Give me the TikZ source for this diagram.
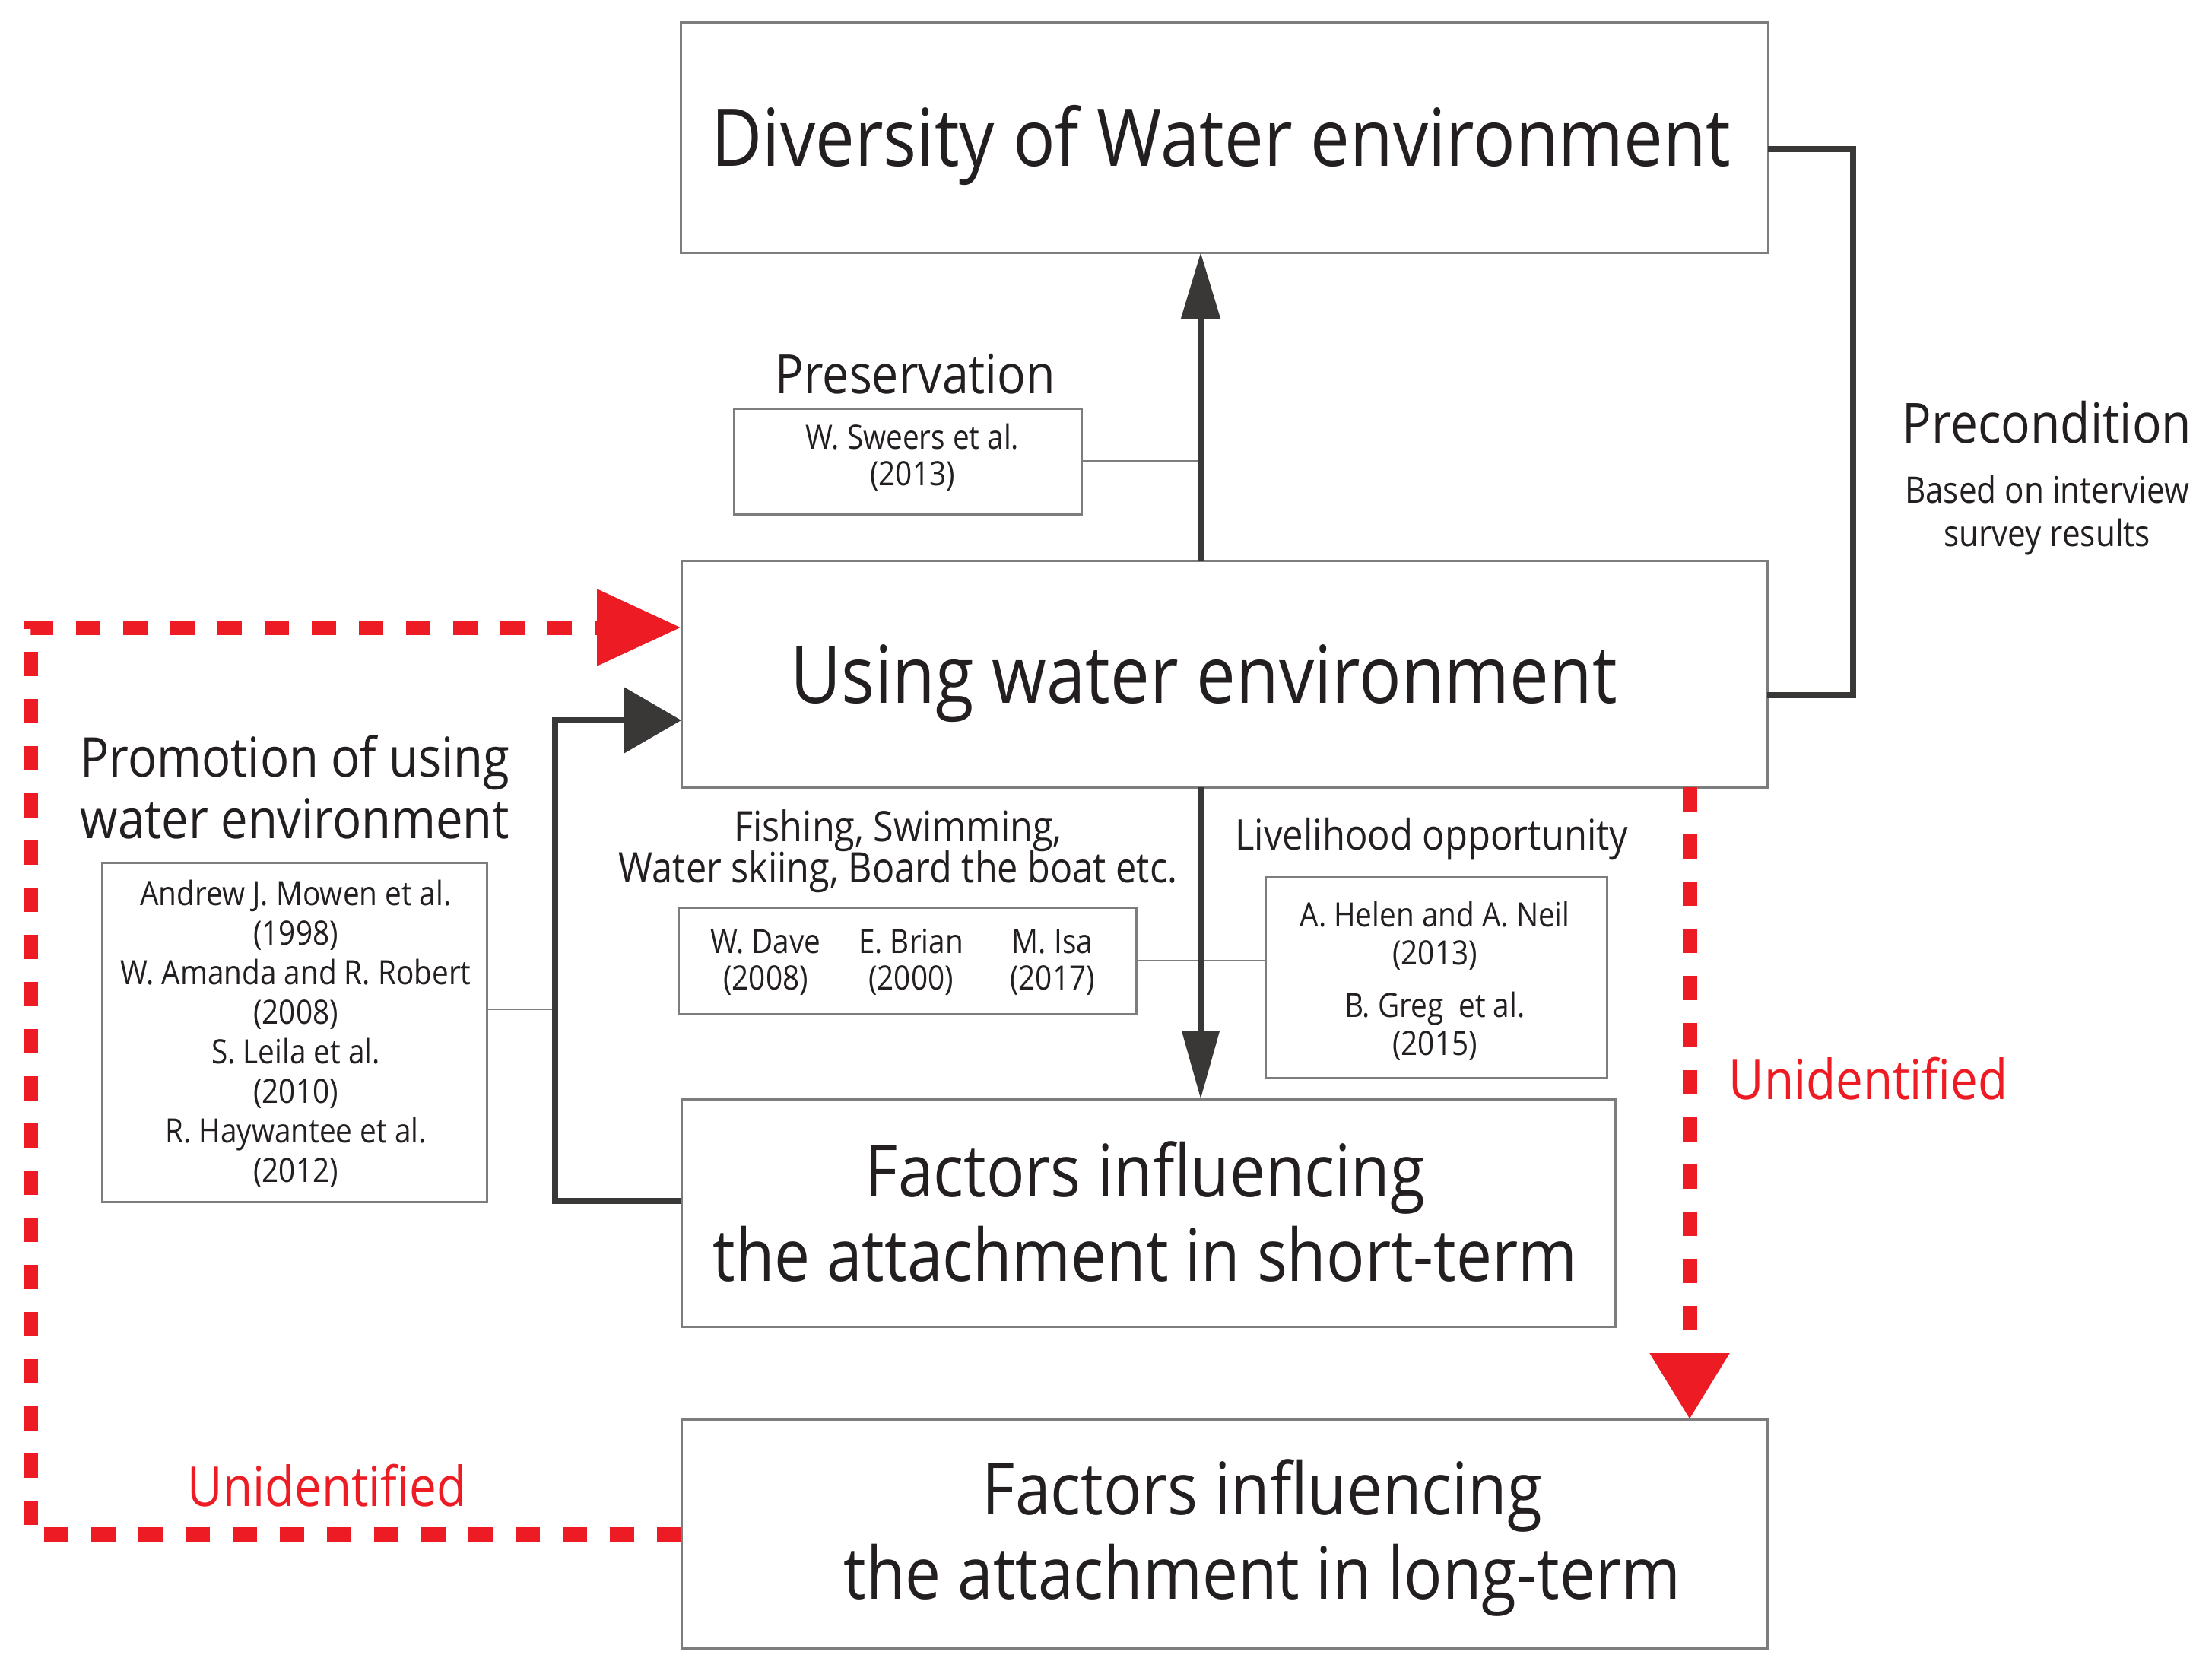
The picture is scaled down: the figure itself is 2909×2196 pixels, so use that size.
\documentclass[tikz,border=0pt]{standalone}
\usepackage{fontspec}
\setmainfont{Open Sans}[FakeStretch=0.88]
\usetikzlibrary{arrows.meta,calc}
\definecolor{redu}{RGB}{237,28,36}
\definecolor{darkl}{RGB}{58,55,55}
\definecolor{boxl}{RGB}{125,125,125}
\definecolor{txtc}{RGB}{35,31,32}
\newcommand{\fsz}[2]{\fontsize{#1}{#2}\selectfont\lineskiplimit=-100pt\relax}
\tikzset{
  box/.style={draw=boxl, line width=0.75pt, inner sep=0pt, outer sep=0pt},
  txt/.style={inner sep=0pt, outer sep=0pt, anchor=base, align=center, text=txtc},
  darr/.style={draw=darkl, line width=2pt},
  thinl/.style={draw=boxl, line width=0.7pt},
  reddash/.style={draw=redu, line width=4.75pt, dash pattern=on 8pt off 7.5pt, line join=miter},
}
\begin{document}
\begin{tikzpicture}[x=0.25pt,y=-0.25pt]
\useasboundingbox (0,0) rectangle (2909,2196);
% boxes
\node[box, minimum width=357.5pt, minimum height=75.75pt] (div) at (1610,180.5) {};
\node[box, minimum width=357pt, minimum height=74.5pt] (use) at (1610,886) {};
\node[box, minimum width=307pt, minimum height=74.75pt] (short) at (1510,1594.5) {};
\node[box, minimum width=357pt, minimum height=75.25pt] (long) at (1610,2016.5) {};
\node[box, minimum width=114.25pt, minimum height=34.75pt] (sw) at (1193.5,606.5) {};
\node[box, minimum width=126.5pt, minimum height=111.5pt] (prm) at (387,1357) {};
\node[box, minimum width=150.5pt, minimum height=35pt] (dav) at (1193,1263) {};
\node[box, minimum width=112.25pt, minimum height=66pt] (hel) at (1888.5,1285) {};
% helper coordinates
\coordinate (xa) at (1579,0);
\coordinate (pr1) at (2437,196);
\coordinate (pr2) at (2437,914);
\coordinate (pm1) at (730,1579);
\coordinate (pm2) at (730,947);
\coordinate (pc) at (730,1327);
\coordinate (r1) at (40,2017);
\coordinate (r2) at (40,825);
\coordinate (r3) at (2222,0);
% connectors
\draw[thinl] (sw.east) -- (sw.east -| xa);
\draw[thinl] (dav.east) -- (hel.west |- dav.east);
\draw[thinl] (prm.east |- pc) -- (pc);
\draw[darr, -{Triangle[length=21.75pt,width=12.5pt]}] (use.north -| xa) -- (div.south -| xa);
\draw[darr, -{Triangle[length=22.5pt,width=12pt]}] (use.south -| xa) -- (short.north -| xa);
\draw[darr, line join=miter] (div.east |- pr1) -- (pr1) -- (pr2) -- (use.east |- pr2);
\draw[darr, line join=miter, -{Triangle[length=19pt,width=21.5pt]}] (short.west |- pm1) -- (pm1) -- (pm2) -- (use.west |- pm2);
\draw[reddash, -{Triangle[length=27.75pt,width=24pt]}] (long.west |- r1) -- (r1) -- (r2) -- (use.west |- r2);
\draw[reddash, -{Triangle[length=21.75pt,width=25pt]}] (use.south -| r3) -- (long.north -| r3);
% texts (anchor=base is the baseline of the last line)
\node[txt, font=\fsz{26.2}{30}] (tdiv) at (1606,218) {Diversity of Water environment};
\node[txt, font=\fsz{26.2}{30}] (tuse) at (1583,924) {Using water environment};
\node[txt, font=\fsz{23.8}{27.75}] (tshort) at (1506,1684) {Factors influencing\\the attachment in short-term};
\node[txt, font=\fsz{23.8}{27.75}] (tlong) at (1660,2102) {Factors influencing\\the attachment in long-term};
\node[txt, font=\fsz{17.8}{20}] (tpres) at (1204,517) {Preservation};
\node[txt, font=\fsz{11}{12}] (tsw) at (1200,638) {W. Sweers et al.\\(2013)};
\node[txt, font=\fsz{18}{20.25}] (tprom) at (388,1102) {Promotion of using\\water environment};
\node[txt, font=\fsz{11}{13}] (tprm) at (389,1554) {Andrew J. Mowen et al.\\(1998)\\W. Amanda and R. Robert\\(2008)\\S. Leila et al.\\(2010)\\R. Haywantee et al.\\(2012)};
\node[txt, font=\fsz{13.8}{13.4}] (tfish) at (1181,1160) {Fishing, Swimming,\\Water skiing, Board the boat etc.};
\node[txt, font=\fsz{11}{12}] (td1) at (1007,1301) {W. Dave\\(2008)};
\node[txt, font=\fsz{11}{12}] (td2) at (1198,1301) {E. Brian\\(2000)};
\node[txt, font=\fsz{11}{12}] (td3) at (1384,1301) {M. Isa\\(2017)};
\node[txt, font=\fsz{13.9}{16}] (tliv) at (1883,1117) {Livelihood opportunity};
\node[txt, font=\fsz{11}{12.5}] (th1) at (1887,1268) {A. Helen and A. Neil\\(2013)};
\node[txt, font=\fsz{11}{12.5}] (th2) at (1887,1387) {B. Greg\ \ et al.\\(2015)};
\node[txt, font=\fsz{18.2}{20}] (tpre) at (2692,582) {Precondition};
\node[txt, font=\fsz{12}{14.25}] (tbas) at (2692,718) {Based on interview\\survey results};
\node[txt, font=\fsz{18.1}{20}, text=redu] (tun1) at (2457,1445) {Unidentified};
\node[txt, font=\fsz{18.1}{20}, text=redu] (tun2) at (430,1980) {Unidentified};
\end{tikzpicture}
\end{document}
